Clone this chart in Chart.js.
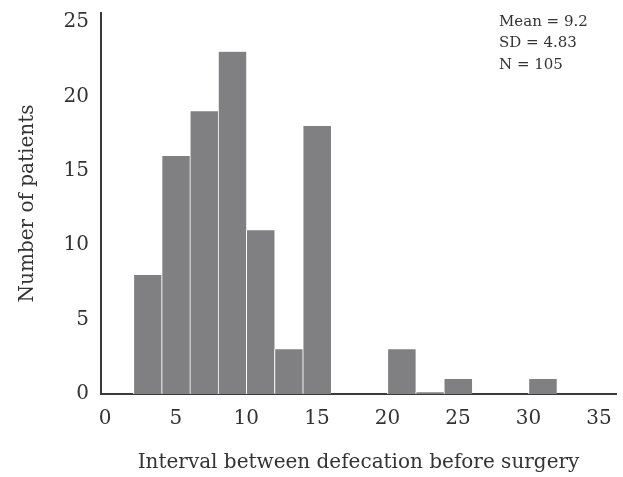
<!DOCTYPE html>
<html>
<head>
<meta charset="utf-8">
<script src="https://cdn.jsdelivr.net/npm/chart.js@4"></script>
<style>
  html, body { margin: 0; padding: 0; background: #fff; }
  #wrap { width: 623px; height: 477px; }
</style>
</head>
<body>
<div id="wrap"><canvas id="histChart"></canvas></div>
<script>
// Histogram bins (centre of each 2-unit bin) and patient counts
const binCenters = [3, 5, 7, 9, 11, 13, 15, 17, 19, 21, 23, 25, 27, 29, 31, 33];
const counts = [8, 16, 19, 23, 11, 3, 18, 0, 0, 3, 0.12, 1, 0, 0, 1, 0];
const xTicks = [0, 5, 10, 15, 20, 25, 30, 35];
const yTicks = [0, 5, 10, 15, 20, 25];
const statsLines = ['Mean = 9.2', 'SD = 4.83', 'N = 105'];

const serif = "'DejaVu Serif', 'Liberation Serif', serif";
const textColor = '#333';

// summary statistics in the top right corner
const statsBox = {
    id: 'statsBox',
    afterDraw(chart) {
        const ctx = chart.ctx;
        ctx.save();
        ctx.font = '15px ' + serif;
        ctx.fillStyle = textColor;
        ctx.textBaseline = 'middle';
        ctx.textAlign = 'left';
        statsLines.forEach((line, i) => {
            ctx.fillText(line, 499, 22 + i * 21.5);
        });
        ctx.restore();
    }
};

const ctx = document.getElementById('histChart').getContext('2d');
new Chart(ctx, {
    type: 'bar',
    data: {
        datasets: [{
            label: 'Number of patients',
            data: binCenters.map((x, i) => ({ x: x, y: counts[i] })),
            backgroundColor: '#808083',
            borderColor: '#ffffff',
            borderWidth: { left: 1, right: 0, top: 0, bottom: 0 },
            borderSkipped: false,
            barPercentage: 1,
            categoryPercentage: 1,
        }]
    },
    options: {
        responsive: true,
        maintainAspectRatio: false,
        animation: false,
        layout: {
            padding: { top: 13, right: 7, left: 0, bottom: 0 }
        },
        plugins: {
            legend: { display: false },
            tooltip: { enabled: false }
        },
        scales: {
            x: {
                type: 'linear',
                offset: false,
                min: -0.3,
                max: 36.2,
                afterBuildTicks: (scale) => {
                    scale.ticks = xTicks.map(v => ({ value: v }));
                },
                afterFit: (scale) => {
                    scale.height = 83;
                    scale.paddingLeft = 0;
                    scale.paddingRight = 0;
                },
                grid: { display: false, drawTicks: false, offset: false },
                border: { display: true, color: '#3a3a3a', width: 2 },
                ticks: {
                    color: textColor,
                    padding: 13,
                    maxRotation: 0,
                    font: { family: serif, size: 20 }
                },
                title: {
                    display: true,
                    text: 'Interval between defecation before surgery',
                    color: textColor,
                    padding: { top: 0, bottom: 2 },
                    font: { family: serif, size: 20 }
                }
            },
            y: {
                min: 0,
                max: 25.6,
                afterBuildTicks: (scale) => {
                    scale.ticks = yTicks.map(v => ({ value: v }));
                },
                afterFit: (scale) => {
                    scale.width = 101;
                    scale.paddingTop = 0;
                    scale.paddingBottom = 0;
                },
                grid: { display: false, drawTicks: false },
                border: { display: true, color: '#3a3a3a', width: 2 },
                ticks: {
                    color: textColor,
                    padding: 12,
                    font: { family: serif, size: 20 }
                },
                title: {
                    display: true,
                    text: 'Number of patients',
                    color: textColor,
                    padding: { top: 16, bottom: 0 },
                    font: { family: serif, size: 20 }
                }
            }
        }
    },
    plugins: [statsBox]
});
</script>
</body>
</html>
